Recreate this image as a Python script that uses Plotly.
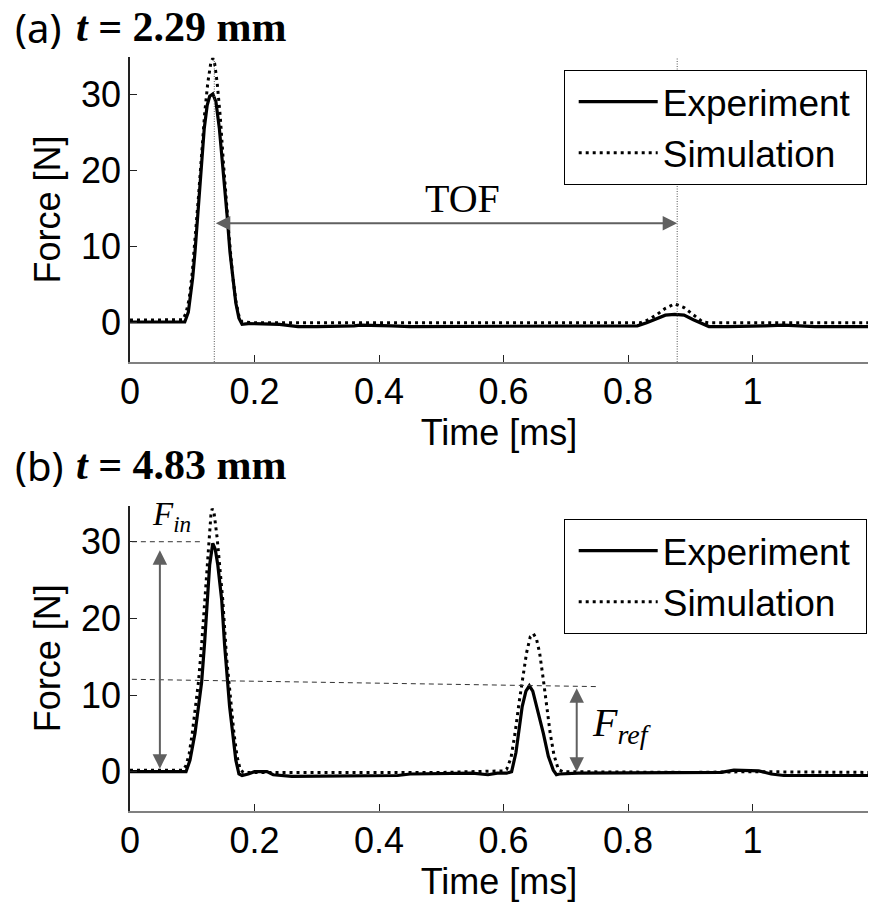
import plotly.graph_objects as go

# ---------------- data: panel (a), t = 2.29 mm ----------------
time_a_exp = [0, 0.04, 0.088, 0.0937, 0.1007, 0.1044, 0.109, 0.114, 0.1193, 0.124, 0.128, 0.133,
              0.138, 0.1435, 0.1475, 0.1515, 0.156, 0.1606, 0.165, 0.170, 0.175, 0.18, 0.19, 0.2,
              0.22, 0.24, 0.26, 0.27, 0.3, 0.33, 0.36, 0.37, 0.4, 0.42, 0.45, 0.5, 0.55, 0.6, 0.65,
              0.7, 0.75, 0.8, 0.815, 0.83, 0.845, 0.86, 0.875, 0.89, 0.905, 0.92, 0.93, 0.96, 0.99,
              1.02, 1.05, 1.08, 1.1, 1.15, 1.19]
force_a_exp = [0, 0, 0, 1.3, 5.8, 9.2, 14, 18.9, 25.5, 28.5, 29.7, 30.0,
               29.0, 25.5, 22.0, 18.9, 14.0, 9.2, 5.8, 2.5, 0.5, -0.3, -0.2, -0.2,
               -0.3, -0.3, -0.5, -0.6, -0.6, -0.6, -0.5, -0.4, -0.4, -0.5, -0.6, -0.6, -0.6, -0.6, -0.6,
               -0.6, -0.6, -0.5, -0.5, -0.1, 0.4, 0.9, 1.0, 0.9, 0.3, -0.3, -0.6, -0.6, -0.6,
               -0.5, -0.4, -0.5, -0.6, -0.6, -0.6]
time_a_sim = [0, 0.04, 0.085, 0.09, 0.095, 0.1, 0.105, 0.11, 0.115, 0.12, 0.125, 0.13, 0.133,
              0.136, 0.14, 0.145, 0.15, 0.155, 0.16, 0.165, 0.17, 0.175, 0.18, 0.2, 0.3, 0.4,
              0.5, 0.6, 0.7, 0.8, 0.82, 0.83, 0.845, 0.86, 0.875, 0.89, 0.905, 0.92, 0.93, 1.0,
              1.1, 1.19]
force_a_sim = [0.25, 0.25, 0.3, 1.2, 3, 6.5, 11, 16.5, 22, 27.5, 31.5, 34.2, 34.7,
               34, 31.5, 27, 21, 15.5, 10.5, 6, 2.8, 0.8, 0.0, -0.1, -0.1, -0.1,
               -0.1, -0.1, -0.1, -0.1, -0.1, 0.2, 0.9, 1.8, 2.4, 1.9, 0.9, 0.0, -0.1, -0.1,
               -0.1, -0.1]

# ---------------- data: panel (b), t = 4.83 mm ----------------
time_b_exp = [0, 0.04, 0.09, 0.0964, 0.1044, 0.11, 0.1151, 0.12, 0.124, 0.128, 0.133, 0.137,
              0.141, 0.1473, 0.152, 0.1563, 0.16, 0.165, 0.17, 0.175, 0.18, 0.19, 0.2, 0.22,
              0.23, 0.26, 0.3, 0.35, 0.4, 0.43, 0.45, 0.5, 0.55, 0.575, 0.59, 0.605, 0.613,
              0.62, 0.624, 0.63, 0.636, 0.6415, 0.647, 0.655, 0.664, 0.672, 0.68, 0.685, 0.69,
              0.72, 0.76, 0.8, 0.86, 0.9, 0.95, 0.97, 0.99, 1.01, 1.03, 1.05, 1.1, 1.15, 1.19]
force_b_exp = [0, 0, 0, 1.5, 5, 8.5, 11.7, 17, 22.4, 27, 29.8, 29,
               27, 22.4, 16.5, 11.7, 8.5, 5, 1.5, -0.3, -0.5, -0.3, 0.0, 0.0,
               -0.4, -0.6, -0.6, -0.6, -0.6, -0.5, -0.3, -0.2, -0.2, -0.4, -0.2, -0.2, 0,
               2.5, 5, 8.5, 10.5, 11.2, 10.5, 8, 5, 2, 0.2, -0.4, -0.3,
               -0.2, -0.2, -0.2, -0.1, -0.1, -0.1, 0.2, 0.2, 0.1, -0.3, -0.5, -0.5, -0.5, -0.5]
time_b_sim = [0, 0.04, 0.085, 0.09, 0.095, 0.1, 0.105, 0.11, 0.115, 0.12, 0.125, 0.13, 0.132,
              0.135, 0.14, 0.145, 0.149, 0.155, 0.159, 0.163, 0.167, 0.172, 0.177, 0.182, 0.2,
              0.3, 0.4, 0.5, 0.6, 0.605, 0.612, 0.6185, 0.625, 0.6305, 0.637, 0.643, 0.648,
              0.653, 0.658, 0.664, 0.67, 0.675, 0.681, 0.688, 0.695, 0.8, 0.9, 1.0, 1.1, 1.19]
force_b_sim = [0.2, 0.2, 0.2, 0.8, 2.3, 5, 8, 11.7, 16.5, 22, 28, 33.5, 34.3,
               33.8, 30.5, 25.5, 22.4, 15, 11.7, 8, 5, 2, 0.3, -0.1, -0.1,
               -0.1, -0.1, -0.1, 0.1, 0.3, 1.8, 5, 9, 12, 15.5, 17.6, 18,
               17.3, 15.5, 12, 8, 5, 2.2, 0.3, 0, -0.1, -0.1, 0, -0.1, -0.1]

x_tick_vals = [0, 0.2, 0.4, 0.6, 0.8, 1]
x_tick_text = ["0", "0.2", "0.4", "0.6", "0.8", "1"]
y_tick_vals = [0, 10, 20, 30]
y_tick_text = ["0", "10", "20", "30"]

# annotation values (data units)
tof_times = [0.1354, 0.879]      # incident / reflected peak times, panel (a)
tof_level = 13.0
fin_time = 0.048
fin_span = [0.2, 28.9]
fin_guide_t = [0.003, 0.117]
fin_guide_f = [30.0, 30.0]
fref_time = 0.7176
fref_span = [-0.2, 10.9]
fref_guide_t = [0.003, 0.75]
fref_guide_f = [12.05, 11.1]

# ---------------- layout constants ----------------
W, H = 871, 909
X_DOM = [130 / W, 868 / W]
Y_DOM_A = [(H - 362) / H, (H - 57) / H]
Y_DOM_B = [(H - 811) / H, (H - 505.7) / H]
X_RANGE = [0, 1.1855]
Y_RANGE_A = [-5.26, 34.87]
Y_RANGE_B = [-5.13, 34.7]

SANS = "Liberation Sans"
SERIF = "Liberation Serif"
FS = 36

fig = go.Figure()

def add_pair(t_exp, f_exp, t_sim, f_sim, xa, ya, leg):
    fig.add_trace(go.Scatter(x=t_exp, y=f_exp, mode="lines", name="Experiment&nbsp;",
                             line=dict(color="black", width=3.2), xaxis=xa, yaxis=ya,
                             legend=leg))
    fig.add_trace(go.Scatter(x=t_sim, y=f_sim, mode="lines", name="Simulation",
                             line=dict(color="black", width=3, dash="3px,4px"),
                             xaxis=xa, yaxis=ya, legend=leg))

add_pair(time_a_exp, force_a_exp, time_a_sim, force_a_sim, "x", "y", "legend")
add_pair(time_b_exp, force_b_exp, time_b_sim, force_b_sim, "x2", "y2", "legend2")

axis_common = dict(showgrid=False, zeroline=False, showline=True, ticks="inside",
                   ticklen=7, tickwidth=1, tickcolor="#222",
                   tickfont=dict(family=SANS, size=FS, color="black"))

xa_common = dict(axis_common, range=X_RANGE, domain=X_DOM, linecolor="#808080",
                 linewidth=1.5, tickvals=x_tick_vals, ticktext=x_tick_text,
                 ticklabelstandoff=-3,
                 title=dict(text="Time [ms]", font=dict(family=SANS, size=FS, color="black"),
                            standoff=9))
ya_common = dict(axis_common, linecolor="#222", linewidth=1.5,
                 tickvals=y_tick_vals, ticktext=y_tick_text, ticklabelstandoff=0)

legend_common = dict(x=866.7 / W, xanchor="right", yanchor="top",
                     bgcolor="white", bordercolor="black", borderwidth=1,
                     font=dict(family=SANS, size=37, color="black"), itemwidth=79,
                     indentation=9, tracegroupgap=0)

fig.update_layout(
    width=W, height=H, autosize=False,
    margin=dict(l=0, r=0, t=0, b=0),
    template="none",
    paper_bgcolor="white", plot_bgcolor="white",
    xaxis=dict(xa_common, anchor="y", automargin=False),
    yaxis=dict(ya_common, range=Y_RANGE_A, domain=Y_DOM_A, anchor="x", automargin=False),
    xaxis2=dict(xa_common, anchor="y2", automargin=False),
    yaxis2=dict(ya_common, range=Y_RANGE_B, domain=Y_DOM_B, anchor="x2", automargin=False),
    legend=dict(legend_common, y=(H - 70) / H),
    legend2=dict(legend_common, y=(H - 519) / H),
)

# y-axis titles
for dom in (Y_DOM_A, Y_DOM_B):
    fig.add_annotation(x=47 / W, y=(dom[0] + dom[1]) / 2, xref="paper", yref="paper",
                       text="Force [N]", textangle=-90, showarrow=False,
                       xanchor="center", yanchor="middle",
                       font=dict(family=SANS, size=FS, color="black"))

# guide lines
for t in tof_times:
    fig.add_shape(type="line", xref="x", yref="y", x0=t, x1=t, y0=Y_RANGE_A[0], y1=Y_RANGE_A[1],
                  line=dict(color="#555", width=1, dash="1px,1.5px"), layer="above")
fig.add_shape(type="line", xref="x2", yref="y2", x0=fin_guide_t[0], x1=fin_guide_t[1],
              y0=fin_guide_f[0], y1=fin_guide_f[1], line=dict(color="#333", width=1, dash="5px,4px"))
fig.add_shape(type="line", xref="x2", yref="y2", x0=fref_guide_t[0], x1=fref_guide_t[1],
              y0=fref_guide_f[0], y1=fref_guide_f[1], line=dict(color="#333", width=1, dash="5px,4px"))

arrow_style = dict(showarrow=True, arrowhead=2, startarrowhead=2, arrowside="end+start",
                   arrowsize=1.45, startarrowsize=1.45, arrowwidth=2, arrowcolor="#606060",
                   text="", standoff=0, startstandoff=0)
fig.add_annotation(x=tof_times[1], y=tof_level, ax=tof_times[0], ay=tof_level,
                   xref="x", yref="y", axref="x", ayref="y", **arrow_style)
fig.add_annotation(x=fin_time, y=fin_span[1], ax=fin_time, ay=fin_span[0],
                   xref="x2", yref="y2", axref="x2", ayref="y2", **arrow_style)
fig.add_annotation(x=fref_time, y=fref_span[1], ax=fref_time, ay=fref_span[0],
                   xref="x2", yref="y2", axref="x2", ayref="y2", **arrow_style)

# text labels
fig.add_annotation(x=0.534, y=16.2, xref="x", yref="y", text="TOF", showarrow=False,
                   font=dict(family=SERIF, size=40, color="black"))
fig.add_annotation(x=0.066, y=33.3, xref="x2", yref="y2", text="<i>F<sub>in</sub></i>",
                   showarrow=False, font=dict(family=SERIF, size=33, color="black"))
fig.add_annotation(x=0.79, y=6.1, xref="x2", yref="y2", text="<i>F<sub>ref</sub></i>",
                   showarrow=False, font=dict(family=SERIF, size=40, color="black"))

# panel titles
for lab, val, yc in [("(a)", "2.29", 27), ("(b)", "4.83", 465)]:
    fig.add_annotation(x=13 / W, y=(H - yc) / H, xref="paper", yref="paper", text=lab,
                       showarrow=False, xanchor="left", yanchor="middle",
                       font=dict(family="Noto Sans", size=40, color="black"))
    fig.add_annotation(x=74 / W, y=(H - yc) / H, xref="paper", yref="paper",
                       text="<b><i>t</i> = " + val + " mm</b>",
                       showarrow=False, xanchor="left", yanchor="middle",
                       font=dict(family=SERIF, size=42, color="black"))

fig.write_html("out.html")
